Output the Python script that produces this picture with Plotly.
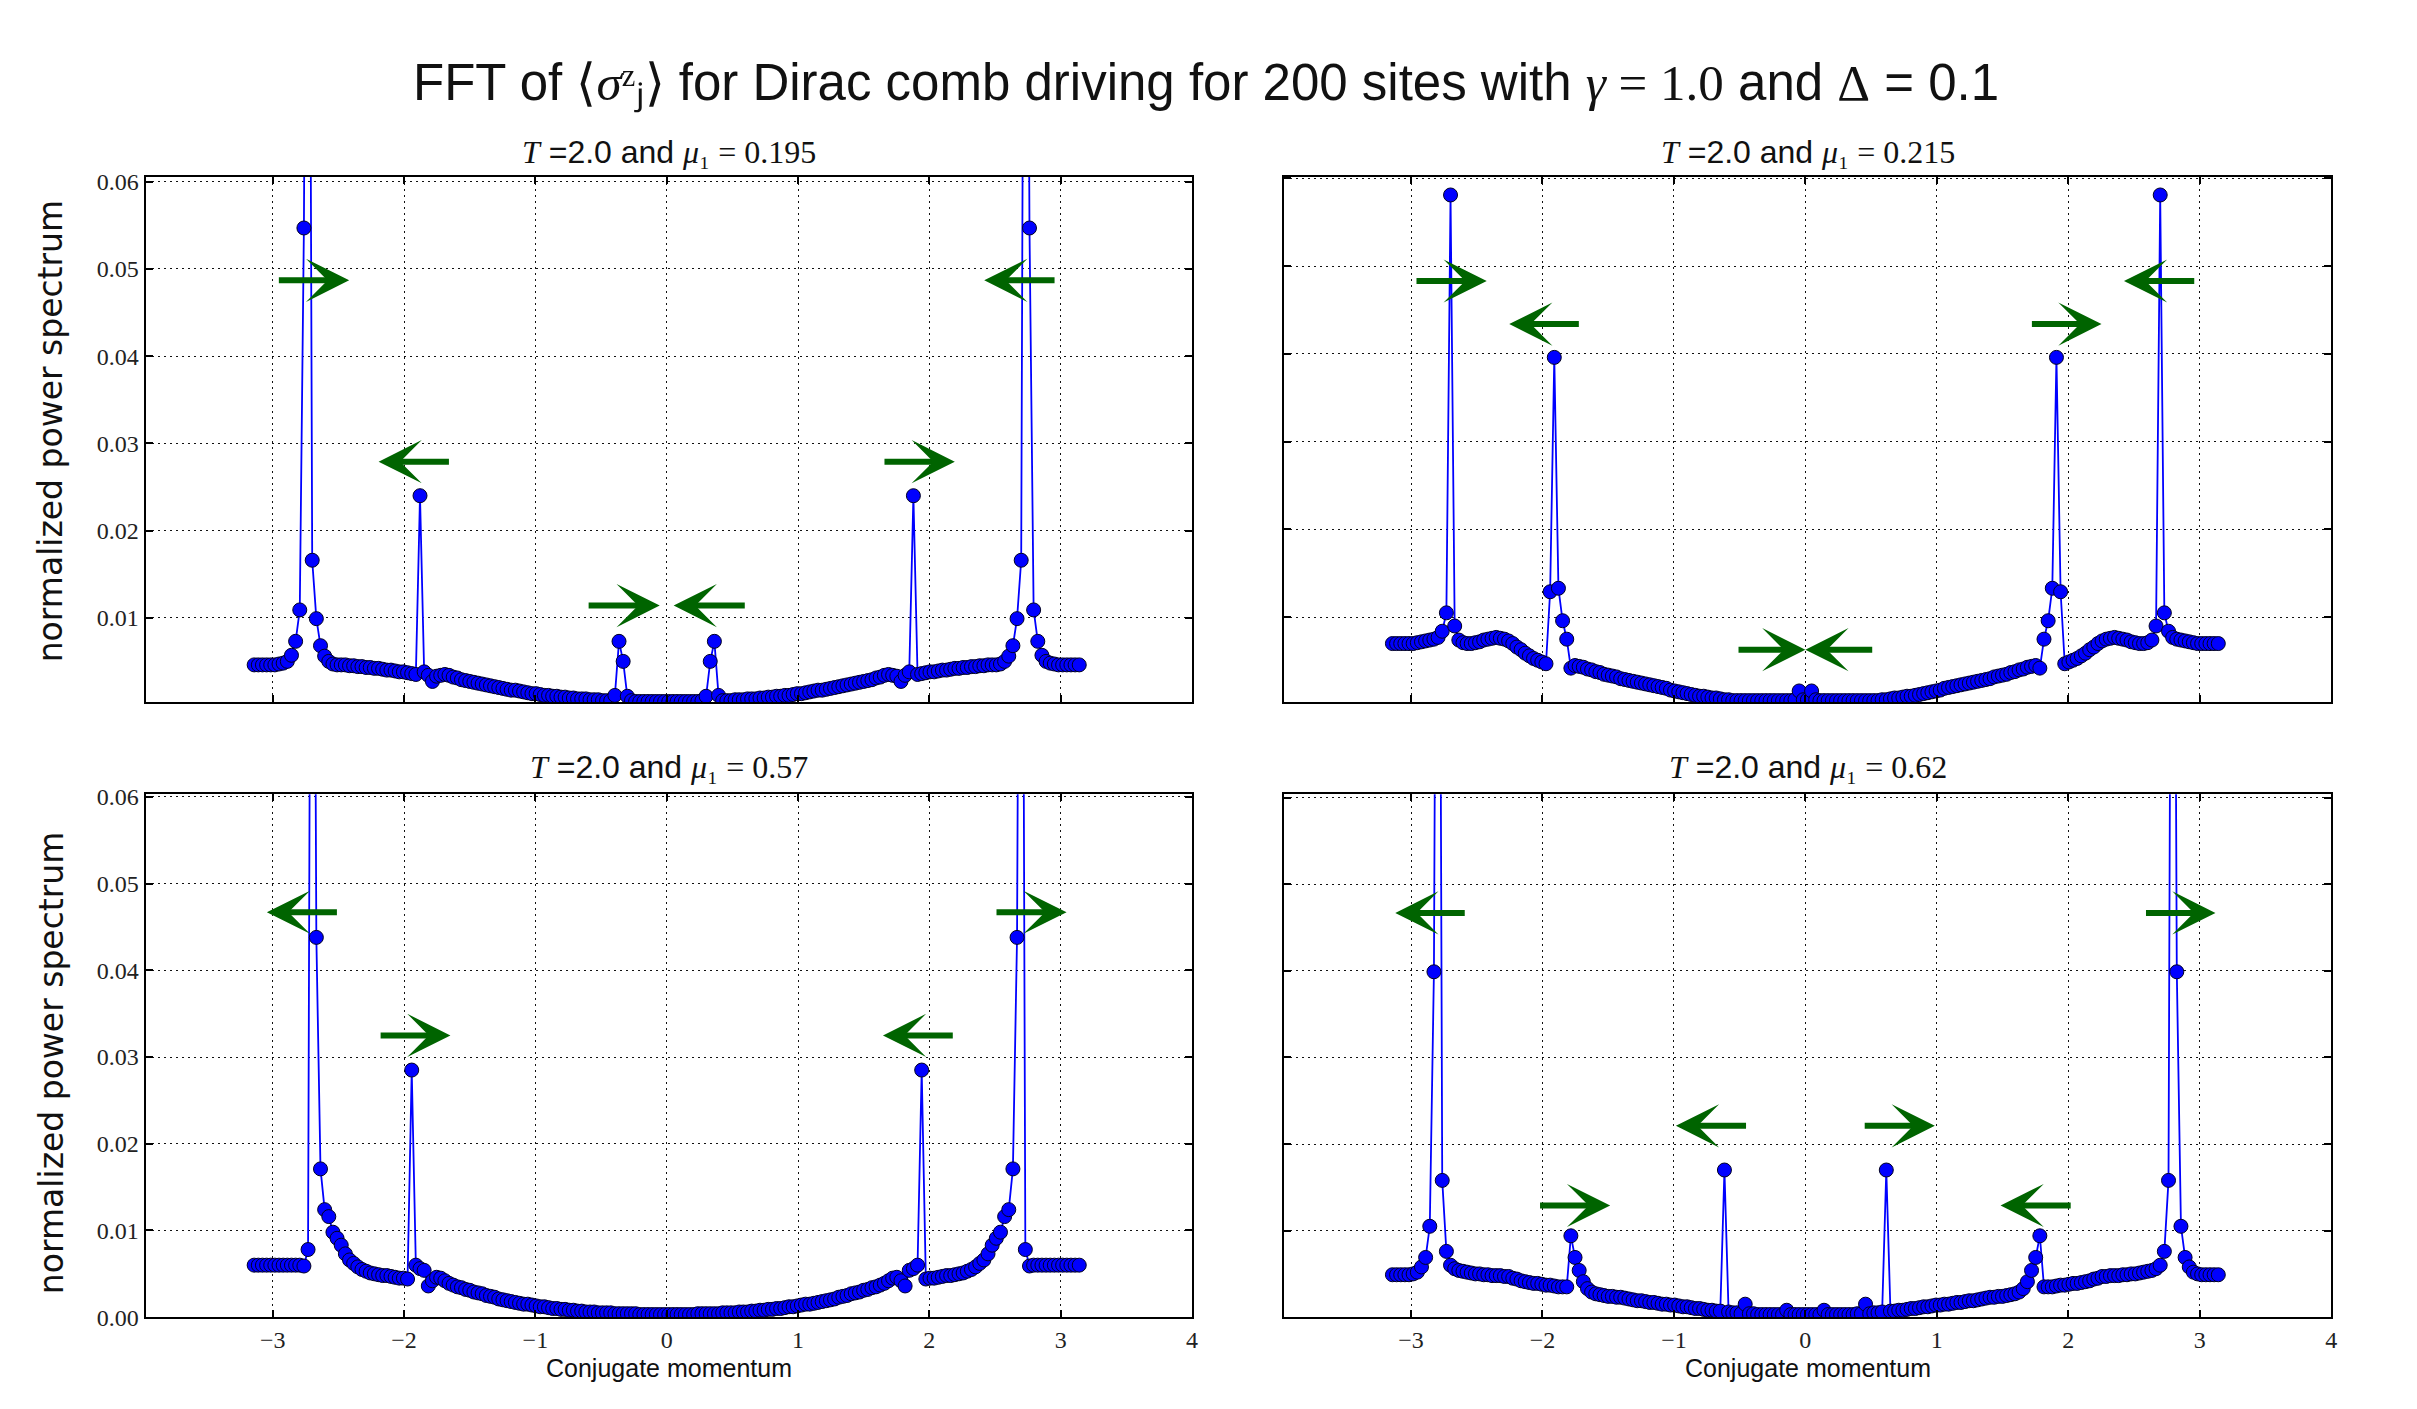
import numpy as np
import plotly.graph_objects as go

# ---------------- data ----------------
momentum = np.linspace(-np.pi, np.pi, 200)

power_mu_0195 = [
    0.0046, 0.0046, 0.0046, 0.0046, 0.0046, 0.0046, 0.0047, 0.0048, 0.0050, 0.0057,
    0.0073, 0.0109, 0.0547, 0.1500, 0.0166, 0.0099, 0.0068, 0.0056, 0.0050, 0.0047,
    0.0046, 0.0046, 0.0046, 0.0045, 0.0045, 0.0044, 0.0044, 0.0043, 0.0043, 0.0042,
    0.0042, 0.0041, 0.0040, 0.0040, 0.0039, 0.0038, 0.0038, 0.0037, 0.0036, 0.0035,
    0.0240, 0.0038, 0.0034, 0.0027, 0.0033, 0.0034, 0.0035, 0.0034, 0.0032, 0.0031,
    0.0029, 0.0028, 0.0027, 0.0026, 0.0025, 0.0024, 0.0023, 0.0022, 0.0021, 0.0020,
    0.0019, 0.0018, 0.0017, 0.0017, 0.0016, 0.0015, 0.0014, 0.0013, 0.0013, 0.0012,
    0.0011, 0.0011, 0.0010, 0.0010, 0.0009, 0.0009, 0.0008, 0.0008, 0.0007, 0.0007,
    0.0007, 0.0006, 0.0006, 0.0006, 0.0005, 0.0005, 0.0005, 0.0011, 0.0073, 0.0050,
    0.0010, 0.0005, 0.0004, 0.0004, 0.0004, 0.0004, 0.0004, 0.0004, 0.0004, 0.0004,
    0.0004, 0.0004, 0.0004, 0.0004, 0.0004, 0.0004, 0.0004, 0.0004, 0.0005, 0.0010,
    0.0050, 0.0073, 0.0011, 0.0005, 0.0005, 0.0005, 0.0006, 0.0006, 0.0006, 0.0007,
    0.0007, 0.0007, 0.0008, 0.0008, 0.0009, 0.0009, 0.0010, 0.0010, 0.0011, 0.0011,
    0.0012, 0.0013, 0.0013, 0.0014, 0.0015, 0.0016, 0.0017, 0.0017, 0.0018, 0.0019,
    0.0020, 0.0021, 0.0022, 0.0023, 0.0024, 0.0025, 0.0026, 0.0027, 0.0028, 0.0029,
    0.0031, 0.0032, 0.0034, 0.0035, 0.0034, 0.0033, 0.0027, 0.0034, 0.0038, 0.0240,
    0.0035, 0.0036, 0.0037, 0.0038, 0.0038, 0.0039, 0.0040, 0.0040, 0.0041, 0.0042,
    0.0042, 0.0043, 0.0043, 0.0044, 0.0044, 0.0045, 0.0045, 0.0046, 0.0046, 0.0046,
    0.0047, 0.0050, 0.0056, 0.0068, 0.0099, 0.0166, 0.1500, 0.0547, 0.0109, 0.0073,
    0.0057, 0.0050, 0.0048, 0.0047, 0.0046, 0.0046, 0.0046, 0.0046, 0.0046, 0.0046,
]

power_mu_0215 = [
    0.0070, 0.0070, 0.0070, 0.0070, 0.0070, 0.0070, 0.0071, 0.0072, 0.0073, 0.0074,
    0.0075, 0.0077, 0.0084, 0.0105, 0.0581, 0.0090, 0.0074, 0.0071, 0.0070, 0.0070,
    0.0071, 0.0072, 0.0074, 0.0075, 0.0076, 0.0077, 0.0076, 0.0075, 0.0073, 0.0070,
    0.0066, 0.0063, 0.0059, 0.0056, 0.0053, 0.0051, 0.0049, 0.0047, 0.0129, 0.0396,
    0.0133, 0.0096, 0.0075, 0.0042, 0.0045, 0.0044, 0.0043, 0.0041, 0.0040, 0.0038,
    0.0037, 0.0035, 0.0034, 0.0033, 0.0032, 0.0030, 0.0029, 0.0028, 0.0027, 0.0026,
    0.0025, 0.0024, 0.0023, 0.0022, 0.0021, 0.0020, 0.0019, 0.0017, 0.0016, 0.0015,
    0.0014, 0.0013, 0.0012, 0.0011, 0.0010, 0.0010, 0.0009, 0.0008, 0.0008, 0.0007,
    0.0006, 0.0006, 0.0005, 0.0005, 0.0005, 0.0005, 0.0005, 0.0005, 0.0005, 0.0005,
    0.0005, 0.0005, 0.0005, 0.0005, 0.0005, 0.0005, 0.0005, 0.0006, 0.0016, 0.0006,
    0.0006, 0.0016, 0.0006, 0.0005, 0.0005, 0.0005, 0.0005, 0.0005, 0.0005, 0.0005,
    0.0005, 0.0005, 0.0005, 0.0005, 0.0005, 0.0005, 0.0005, 0.0005, 0.0006, 0.0006,
    0.0007, 0.0008, 0.0008, 0.0009, 0.0010, 0.0010, 0.0011, 0.0012, 0.0013, 0.0014,
    0.0015, 0.0016, 0.0017, 0.0019, 0.0020, 0.0021, 0.0022, 0.0023, 0.0024, 0.0025,
    0.0026, 0.0027, 0.0028, 0.0029, 0.0030, 0.0032, 0.0033, 0.0034, 0.0035, 0.0037,
    0.0038, 0.0040, 0.0041, 0.0043, 0.0044, 0.0045, 0.0042, 0.0075, 0.0096, 0.0133,
    0.0396, 0.0129, 0.0047, 0.0049, 0.0051, 0.0053, 0.0056, 0.0059, 0.0063, 0.0066,
    0.0070, 0.0073, 0.0075, 0.0076, 0.0077, 0.0076, 0.0075, 0.0074, 0.0072, 0.0071,
    0.0070, 0.0070, 0.0071, 0.0074, 0.0090, 0.0581, 0.0105, 0.0084, 0.0077, 0.0075,
    0.0074, 0.0073, 0.0072, 0.0071, 0.0070, 0.0070, 0.0070, 0.0070, 0.0070, 0.0070,
]

power_mu_057 = [
    0.0060, 0.0060, 0.0060, 0.0060, 0.0060, 0.0060, 0.0060, 0.0060, 0.0060, 0.0060,
    0.0060, 0.0060, 0.0059, 0.0078, 0.1500, 0.0438, 0.0171, 0.0124, 0.0116, 0.0098,
    0.0091, 0.0083, 0.0073, 0.0066, 0.0062, 0.0058, 0.0055, 0.0053, 0.0051, 0.0050,
    0.0049, 0.0048, 0.0048, 0.0047, 0.0046, 0.0045, 0.0045, 0.0044, 0.0285, 0.0060,
    0.0056, 0.0054, 0.0036, 0.0042, 0.0046, 0.0045, 0.0042, 0.0039, 0.0037, 0.0035,
    0.0034, 0.0032, 0.0031, 0.0029, 0.0028, 0.0027, 0.0025, 0.0024, 0.0023, 0.0021,
    0.0020, 0.0019, 0.0018, 0.0017, 0.0016, 0.0015, 0.0015, 0.0014, 0.0013, 0.0012,
    0.0012, 0.0011, 0.0010, 0.0010, 0.0009, 0.0009, 0.0008, 0.0008, 0.0007, 0.0007,
    0.0006, 0.0006, 0.0006, 0.0005, 0.0005, 0.0005, 0.0005, 0.0004, 0.0004, 0.0004,
    0.0004, 0.0004, 0.0004, 0.0003, 0.0003, 0.0003, 0.0003, 0.0003, 0.0003, 0.0003,
    0.0003, 0.0003, 0.0003, 0.0003, 0.0003, 0.0003, 0.0003, 0.0004, 0.0004, 0.0004,
    0.0004, 0.0004, 0.0004, 0.0005, 0.0005, 0.0005, 0.0005, 0.0006, 0.0006, 0.0006,
    0.0007, 0.0007, 0.0008, 0.0008, 0.0009, 0.0009, 0.0010, 0.0010, 0.0011, 0.0012,
    0.0012, 0.0013, 0.0014, 0.0015, 0.0015, 0.0016, 0.0017, 0.0018, 0.0019, 0.0020,
    0.0021, 0.0023, 0.0024, 0.0025, 0.0027, 0.0028, 0.0029, 0.0031, 0.0032, 0.0034,
    0.0035, 0.0037, 0.0039, 0.0042, 0.0045, 0.0046, 0.0042, 0.0036, 0.0054, 0.0056,
    0.0060, 0.0285, 0.0044, 0.0045, 0.0045, 0.0046, 0.0047, 0.0048, 0.0048, 0.0049,
    0.0050, 0.0051, 0.0053, 0.0055, 0.0058, 0.0062, 0.0066, 0.0073, 0.0083, 0.0091,
    0.0098, 0.0116, 0.0124, 0.0171, 0.0438, 0.1500, 0.0078, 0.0059, 0.0060, 0.0060,
    0.0060, 0.0060, 0.0060, 0.0060, 0.0060, 0.0060, 0.0060, 0.0060, 0.0060, 0.0060,
]

power_mu_062 = [
    0.0049, 0.0049, 0.0049, 0.0049, 0.0049, 0.0050, 0.0052, 0.0058, 0.0069, 0.0105,
    0.0399, 0.1500, 0.0158, 0.0076, 0.0060, 0.0056, 0.0054, 0.0053, 0.0052, 0.0051,
    0.0050, 0.0050, 0.0049, 0.0049, 0.0048, 0.0048, 0.0048, 0.0047, 0.0047, 0.0045,
    0.0044, 0.0042, 0.0041, 0.0040, 0.0039, 0.0039, 0.0038, 0.0037, 0.0037, 0.0036,
    0.0035, 0.0035, 0.0035, 0.0094, 0.0069, 0.0054, 0.0041, 0.0033, 0.0029, 0.0027,
    0.0026, 0.0025, 0.0024, 0.0024, 0.0023, 0.0023, 0.0022, 0.0021, 0.0020, 0.0019,
    0.0019, 0.0018, 0.0017, 0.0017, 0.0016, 0.0015, 0.0015, 0.0014, 0.0014, 0.0013,
    0.0012, 0.0012, 0.0011, 0.0010, 0.0010, 0.0009, 0.0008, 0.0008, 0.0007, 0.0007,
    0.0170, 0.0006, 0.0005, 0.0005, 0.0004, 0.0015, 0.0004, 0.0004, 0.0003, 0.0003,
    0.0003, 0.0003, 0.0003, 0.0003, 0.0003, 0.0008, 0.0003, 0.0003, 0.0003, 0.0003,
    0.0003, 0.0003, 0.0003, 0.0003, 0.0008, 0.0003, 0.0003, 0.0003, 0.0003, 0.0003,
    0.0003, 0.0003, 0.0004, 0.0004, 0.0015, 0.0004, 0.0005, 0.0005, 0.0006, 0.0170,
    0.0007, 0.0007, 0.0008, 0.0008, 0.0009, 0.0010, 0.0010, 0.0011, 0.0012, 0.0012,
    0.0013, 0.0014, 0.0014, 0.0015, 0.0015, 0.0016, 0.0017, 0.0017, 0.0018, 0.0019,
    0.0019, 0.0020, 0.0021, 0.0022, 0.0023, 0.0023, 0.0024, 0.0024, 0.0025, 0.0026,
    0.0027, 0.0029, 0.0033, 0.0041, 0.0054, 0.0069, 0.0094, 0.0035, 0.0035, 0.0035,
    0.0036, 0.0037, 0.0037, 0.0038, 0.0039, 0.0039, 0.0040, 0.0041, 0.0042, 0.0044,
    0.0045, 0.0047, 0.0047, 0.0048, 0.0048, 0.0048, 0.0049, 0.0049, 0.0050, 0.0050,
    0.0051, 0.0052, 0.0053, 0.0054, 0.0056, 0.0060, 0.0076, 0.0158, 0.1500, 0.0399,
    0.0105, 0.0069, 0.0058, 0.0052, 0.0050, 0.0049, 0.0049, 0.0049, 0.0049, 0.0049,
]

mu_labels = ["0.195", "0.215", "0.57", "0.62"]
period_label = "2.0"

# arrows: (tail momentum, head momentum, height)
arrows_mu_0195 = [(-2.965, -2.418, 0.0487), (-1.647, -2.194, 0.0279), (-0.606, -0.053, 0.0114),
                  (0.606, 0.053, 0.0114), (1.647, 2.194, 0.0279), (2.965, 2.418, 0.0487)]
arrows_mu_0215 = [(-2.97, -2.424, 0.0483), (-1.712, -2.253, 0.0434), (-0.52, 0.0, 0.0063),
                  (0.52, 0.0, 0.0063), (1.712, 2.253, 0.0434), (2.97, 2.424, 0.0483)]
arrows_mu_057 = [(-2.50, -3.045, 0.0467), (-2.19, -1.647, 0.0325),
                 (2.19, 1.647, 0.0325), (2.50, 3.045, 0.0467)]
arrows_mu_062 = [(-2.58, -3.12, 0.0467), (2.58, 3.12, 0.0467), (-0.44, -0.985, 0.0221),
                 (0.44, 0.985, 0.0221), (-2.03, -1.485, 0.0129), (2.03, 1.485, 0.0129)]

series = [power_mu_0195, power_mu_0215, power_mu_057, power_mu_062]
arrow_sets = [arrows_mu_0195, arrows_mu_0215, arrows_mu_057, arrows_mu_062]

# ---------------- layout ----------------
W, H = 2417, 1409


def py(px_from_top):
    """paper y for a target pixel row (compensates the observed vertical squeeze)."""
    return 1 - ((px_from_top - 10.4) / 0.984) / H


x_domains = [[146 / W, 1195 / W], [1287 / W, 2337 / W]]
y_domains = [[py(703), py(177)], [py(1318), py(795)]]
y_ranges = [[0.0003, 0.0606], [0.0003, 0.0602], [0.0, 0.0603], [0.0, 0.0604]]

SERIF = "Liberation Serif"
SANS = "Liberation Sans"
GREEN = "#006400"

fig = go.Figure()
layout = dict(
    width=W, height=H,
    margin=dict(l=0, r=0, t=0, b=0),
    paper_bgcolor="white", plot_bgcolor="white",
    showlegend=False,
)
annotations = []

for k in range(4):
    row, col = divmod(k, 2)
    n = k + 1
    xs = "x" if n == 1 else f"x{n}"
    ys = "y" if n == 1 else f"y{n}"
    fig.add_trace(go.Scatter(
        x=momentum, y=series[k], xaxis=xs, yaxis=ys,
        mode="lines+markers",
        line=dict(color="#0000ff", width=1.8),
        marker=dict(color="#0000ff", size=14, line=dict(color="#000022", width=1)),
        cliponaxis=True,
    ))
    common = dict(
        showline=True, linecolor="black", linewidth=2, mirror="allticks",
        ticks="inside", ticklen=7, tickwidth=1.5, tickcolor="black",
        showgrid=True, gridcolor="#111111", gridwidth=1, griddash="2px,4px",
        zeroline=False,
        tickfont=dict(family=SERIF, size=24, color="#222222"),
    )
    layout["xaxis" if n == 1 else f"xaxis{n}"] = dict(
        common, domain=x_domains[col], anchor=ys,
        range=[-3.968, 4.0005], tickmode="linear", tick0=-3, dtick=1,
        showticklabels=(row == 1),
    )
    layout["yaxis" if n == 1 else f"yaxis{n}"] = dict(
        common, domain=y_domains[row], anchor=xs,
        range=y_ranges[k], tickmode="linear", tick0=0, dtick=0.01, tickformat=".2f",
        showticklabels=(col == 0),
    )
    # subplot title
    annotations.append(dict(
        xref="paper", yref="paper",
        x=sum(x_domains[col]) / 2, y=py(152) if row == 0 else py(768),
        xanchor="center", yanchor="middle", showarrow=False,
        text=(f'<span style="font-family:{SERIF}"><i>T</i></span> ={period_label} and '
              f'<span style="font-family:{SERIF}"><i>μ</i>₁ = {mu_labels[k]}</span>'),
        font=dict(family=SANS, size=32, color="#111111"),
    ))
    # arrows
    for tail, head, yv in arrow_sets[k]:
        annotations.append(dict(
            xref=xs, yref=ys, axref=xs, ayref=ys,
            x=head, y=yv, ax=tail, ay=yv, text="",
            showarrow=True, arrowhead=3, arrowsize=1.2, arrowwidth=6,
            arrowcolor=GREEN, standoff=0, startstandoff=0,
        ))

# axis labels
for row in range(2):
    annotations.append(dict(
        xref="paper", yref="paper", x=51 / W, y=py(431) if row == 0 else py(1063),
        xanchor="center", yanchor="middle", showarrow=False, textangle=-90,
        text="normalized power spectrum",
        font=dict(family="DejaVu Sans", size=33, color="#111111"),
    ))
for col in range(2):
    annotations.append(dict(
        xref="paper", yref="paper", x=sum(x_domains[col]) / 2, y=py(1369),
        xanchor="center", yanchor="middle", showarrow=False,
        text="Conjugate momentum",
        font=dict(family=SANS, size=25, color="#111111"),
    ))

# main title
annotations.append(dict(
    xref="paper", yref="paper", x=0.5, y=py(84),
    xanchor="center", yanchor="middle", showarrow=False,
    text=(f'FFT of <span style="font-family:{SERIF}">⟨<i>σ</i>ᶻⱼ⟩</span> '
          f'for Dirac comb driving for 200 sites with '
          f'<span style="font-family:{SERIF}"><i>γ</i> = 1.0</span> and '
          f'<span style="font-family:{SERIF}">Δ</span> = 0.1'),
    font=dict(family=SANS, size=51, color="#111111"),
))

layout["annotations"] = annotations
fig.update_layout(**layout)
fig.write_html("out.html")
